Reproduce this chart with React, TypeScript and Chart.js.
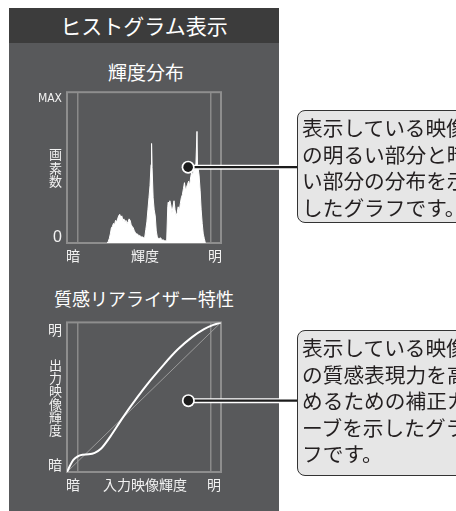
import React, { useEffect, useRef } from 'react';
import { Chart, registerables } from 'chart.js';
Chart.register(...registerables);

// ---------- Histogram (輝度分布) ----------
const histLuma = [
  56, 58, 60, 62, 64, 66, 68, 70, 72, 74, 76, 78, 80, 82, 84, 86, 88, 90, 92, 94,
  96, 98, 100, 102, 104, 106, 108, 110, 112, 114, 116, 118, 120, 122, 124, 126, 128,
  130, 132, 134, 136, 138, 140, 141, 142, 144, 146, 148, 150, 152, 154, 156, 158, 160,
  162, 164, 166, 168, 170, 172, 173, 174, 176, 178, 180, 182, 184, 186, 188, 190, 192,
  194, 196, 198, 200, 202, 204, 206, 208, 210, 212, 214, 216, 218, 220, 222, 224, 226,
  228, 229, 230, 232, 234, 236, 238, 240, 242, 244,
];
const histCount = [
  0, 1, 3, 6, 10, 11, 13, 12, 15, 14, 16, 18, 19, 17, 18, 15, 16, 14, 15, 13,
  14, 16, 15, 12, 11, 10, 8, 7, 6, 6, 5, 5, 4.5, 4, 4, 3.5, 4,
  9, 14, 22, 30, 38, 52, 66, 50, 30, 22, 18, 8, 4, 3, 3, 3.5, 2.5,
  2, 2, 1.5, 1.5, 2, 24, 27, 22, 28, 25, 20, 24, 28, 22, 18, 20, 24,
  21, 26, 30, 32, 36, 40, 35, 37, 39, 41, 38, 44, 47, 45, 50, 48, 53,
  74, 52, 50, 45, 35, 22, 13, 6, 3, 0,
];
const histXRange = [-21, 274];
const histXTickValues = [-9.6, 0, 128.5, 255, 262.7];
const histXTickLabels = ['暗', '', '輝度', '', '明'];
const histGridValues = [0, 255];
const histYRange = [0, 100];
const histYTickValues = [3.9, 49.7, 95.4];
const histYTickLabels: (string | string[])[] = ['0', ['画', '素', '数'], 'MAX'];
const histMarker = [211, 50.3];

// ---------- Curve (質感リアライザー特性) ----------
const curveIn = [0, 0.017, 0.04, 0.07, 0.1, 0.14, 0.18, 0.22, 0.28, 0.36, 0.45, 0.54, 0.63, 0.72, 0.81, 0.89, 0.95, 1];
const curveOut = [0, 0.037, 0.08, 0.105, 0.115, 0.118, 0.128, 0.155, 0.235, 0.36, 0.49, 0.61, 0.72, 0.82, 0.9, 0.955, 0.983, 1];
const diagIn = [0, 1];
const diagOut = [0, 1];
const curveXTickValues = [0.039, 0.0714, 0.506, 0.935, 0.955];
const curveXTickLabels = ['暗', '', '入力映像輝度', '', '明'];
const curveGridValues = [0.0714, 0.935];
const curveYTickValues = [0.046, 0.497, 0.953];
const curveYTickLabels: (string | string[])[] = ['暗', ['出', '力', '映', '像', '輝', '度'], '明'];
const curveMarker = [0.788, 0.477];

// ---------- Texts ----------
const headerText = 'ヒストグラム表示';
const title1 = '輝度分布';
const title2 = '質感リアライザー特性';
const callout1Lines = ['表示している映像', 'の明るい部分と暗', 'い部分の分布を示', 'したグラフです。'];
const callout2Lines = ['表示している映像', 'の質感表現力を高', 'めるための補正カ', 'ーブを示したグラ', 'フです。'];

const JP = '"Noto Sans CJK JP", "Noto Sans", sans-serif';
const PANEL = '#58595b';
const LABEL = '#f2f2f2';
const FRAME = '#8e8e8e';

const framePlugin = {
  id: 'frame',
  beforeDatasetsDraw(chart: any) {
    const { ctx, chartArea: a } = chart;
    ctx.save();
    ctx.strokeStyle = FRAME;
    ctx.lineWidth = 2;
    ctx.strokeRect(a.left, a.top, a.right - a.left, a.bottom - a.top);
    ctx.restore();
  },
};

const connectorPlugin = {
  id: 'connector',
  afterDraw(chart: any, _args: any, opts: any) {
    if (!opts || opts.x === undefined) return;
    const { ctx } = chart;
    const x = chart.scales.x.getPixelForValue(opts.x);
    const y = chart.scales.y.getPixelForValue(opts.y);
    const xe = chart.width;
    ctx.save();
    ctx.lineCap = 'butt';
    ctx.beginPath();
    ctx.moveTo(x, y);
    ctx.lineTo(xe, y);
    ctx.strokeStyle = '#ffffff';
    ctx.lineWidth = 5;
    ctx.stroke();
    ctx.beginPath();
    ctx.moveTo(x, y);
    ctx.lineTo(xe, y);
    ctx.strokeStyle = '#1c1c1c';
    ctx.lineWidth = 2.2;
    ctx.stroke();
    ctx.beginPath();
    ctx.arc(x, y, 6.5, 0, Math.PI * 2);
    ctx.fillStyle = '#ffffff';
    ctx.fill();
    ctx.beginPath();
    ctx.arc(x, y, 4.8, 0, Math.PI * 2);
    ctx.fillStyle = '#1c1c1c';
    ctx.fill();
    ctx.restore();
  },
};

function makeXScale(range: number[], tickValues: number[], tickLabels: string[], gridValues: number[]) {
  return {
    type: 'linear',
    min: range[0],
    max: range[1],
    afterBuildTicks: (s: any) => {
      s.ticks = tickValues.map((v) => ({ value: v }));
    },
    afterFit: (s: any) => {
      s.height = 25;
    },
    grid: {
      drawTicks: false,
      lineWidth: 1.5,
      color: (c: any) => (c.tick && gridValues.includes(c.tick.value) ? '#8a8a8a' : 'rgba(0,0,0,0)'),
    },
    border: { display: false },
    ticks: {
      autoSkip: false,
      maxRotation: 0,
      minRotation: 0,
      padding: 4,
      color: LABEL,
      font: { family: JP, size: 14 },
      callback: (_v: any, i: number) => tickLabels[i],
    },
  };
}

function makeYScale(range: number[], tickValues: number[], tickLabels: any[], fontFn: (i: number) => any) {
  return {
    type: 'linear',
    min: range[0],
    max: range[1],
    afterBuildTicks: (s: any) => {
      s.ticks = tickValues.map((v) => ({ value: v }));
    },
    afterFit: (s: any) => {
      s.width = 47;
    },
    grid: { display: false, drawTicks: false },
    border: { display: false },
    ticks: {
      autoSkip: false,
      padding: 5,
      color: LABEL,
      font: (c: any) => fontFn(c.index),
      callback: (_v: any, i: number) => tickLabels[i],
    },
  };
}

const baseOptions = {
  responsive: false,
  animation: false,
  devicePixelRatio: 1,
  layout: { padding: { left: 20, right: 79, top: 10, bottom: 2 } },
};

function HistogramChart() {
  const ref = useRef<HTMLCanvasElement>(null);
  useEffect(() => {
    const chart = new Chart(ref.current as HTMLCanvasElement, {
      type: 'line',
      data: {
        datasets: [
          {
            data: histLuma.map((x, i) => ({ x, y: histCount[i] })),
            borderColor: '#ffffff',
            backgroundColor: '#ffffff',
            borderWidth: 1,
            fill: 'origin',
            pointRadius: 0,
            tension: 0,
          },
        ],
      },
      options: {
        ...baseOptions,
        plugins: {
          legend: { display: false },
          tooltip: { enabled: false },
          connector: { x: histMarker[0], y: histMarker[1] },
        },
        scales: {
          x: makeXScale(histXRange, histXTickValues, histXTickLabels, histGridValues),
          y: makeYScale(histYRange, histYTickValues, histYTickLabels, (i) =>
            i === 2
              ? { family: '"Liberation Sans Narrow", "DejaVu Sans Condensed", sans-serif', size: 12 }
              : i === 0
              ? { family: '"Liberation Sans", sans-serif', size: 16 }
              : { family: JP, size: 13, lineHeight: '13.5px' }
          ),
        },
      } as any,
      plugins: [framePlugin, connectorPlugin],
    });
    return () => chart.destroy();
  }, []);
  return <canvas ref={ref} width={300} height={190} />;
}

function CurveChart() {
  const ref = useRef<HTMLCanvasElement>(null);
  useEffect(() => {
    const chart = new Chart(ref.current as HTMLCanvasElement, {
      type: 'line',
      data: {
        datasets: [
          {
            data: curveIn.map((x, i) => ({ x, y: curveOut[i] })),
            borderColor: '#ffffff',
            borderWidth: 2,
            pointRadius: 0,
            cubicInterpolationMode: 'monotone',
            fill: false,
          },
          {
            data: diagIn.map((x, i) => ({ x, y: diagOut[i] })),
            borderColor: '#9a9a9a',
            borderWidth: 1,
            pointRadius: 0,
            fill: false,
          },
        ],
      },
      options: {
        ...baseOptions,
        plugins: {
          legend: { display: false },
          tooltip: { enabled: false },
          connector: { x: curveMarker[0], y: curveMarker[1] },
        },
        scales: {
          x: makeXScale([0, 1], curveXTickValues, curveXTickLabels, curveGridValues),
          y: makeYScale([0, 1], curveYTickValues, curveYTickLabels, (i) =>
            i === 1 ? { family: JP, size: 13, lineHeight: '13px' } : { family: JP, size: 14 }
          ),
        },
      } as any,
      plugins: [framePlugin, connectorPlugin],
    });
    return () => chart.destroy();
  }, []);
  return <canvas ref={ref} width={300} height={190} />;
}

function Callout({ top, height, lines }: { top: number; height: number; lines: string[] }) {
  return (
    <div
      style={{
        position: 'absolute',
        left: 297,
        top,
        width: 220,
        height,
        boxSizing: 'border-box',
        border: '1.5px solid #333',
        borderRadius: 8,
        background: '#e6e6e6',
        padding: '3px 0 0 4px',
        fontSize: 20.7,
        lineHeight: '26.5px',
        color: '#231f20',
        whiteSpace: 'nowrap',
      }}
    >
      {lines.map((l, i) => (
        <div key={i}>{l}</div>
      ))}
    </div>
  );
}

export default function App() {
  return (
    <div
      style={{
        position: 'fixed',
        left: 0,
        top: 0,
        width: 456,
        height: 511,
        overflow: 'hidden',
        background: '#ffffff',
        fontFamily: JP,
      }}
    >
      <div style={{ position: 'absolute', left: 9, top: 8, width: 270, height: 503, background: PANEL }} />
      <div
        style={{
          position: 'absolute',
          left: 9,
          top: 8,
          width: 270,
          height: 35,
          background: '#3c3c3c',
          color: '#fff',
          fontSize: 21,
          lineHeight: '35px',
          textAlign: 'center',
        }}
      >
        {headerText}
      </div>
      <div
        style={{
          position: 'absolute',
          left: 9,
          top: 60,
          width: 274,
          height: 24,
          color: '#fff',
          fontSize: 19,
          lineHeight: '24px',
          textAlign: 'center',
        }}
      >
        {title1}
      </div>
      <div
        style={{
          position: 'absolute',
          left: 9,
          top: 286,
          width: 270,
          height: 24,
          color: '#fff',
          fontSize: 18,
          lineHeight: '24px',
          textAlign: 'center',
        }}
      >
        {title2}
      </div>
      <div style={{ position: 'absolute', left: 0, top: 80 }}>
        <HistogramChart />
      </div>
      <div style={{ position: 'absolute', left: 0, top: 309 }}>
        <CurveChart />
      </div>
      <Callout top={110} height={113} lines={callout1Lines} />
      <Callout top={330} height={146} lines={callout2Lines} />
    </div>
  );
}
